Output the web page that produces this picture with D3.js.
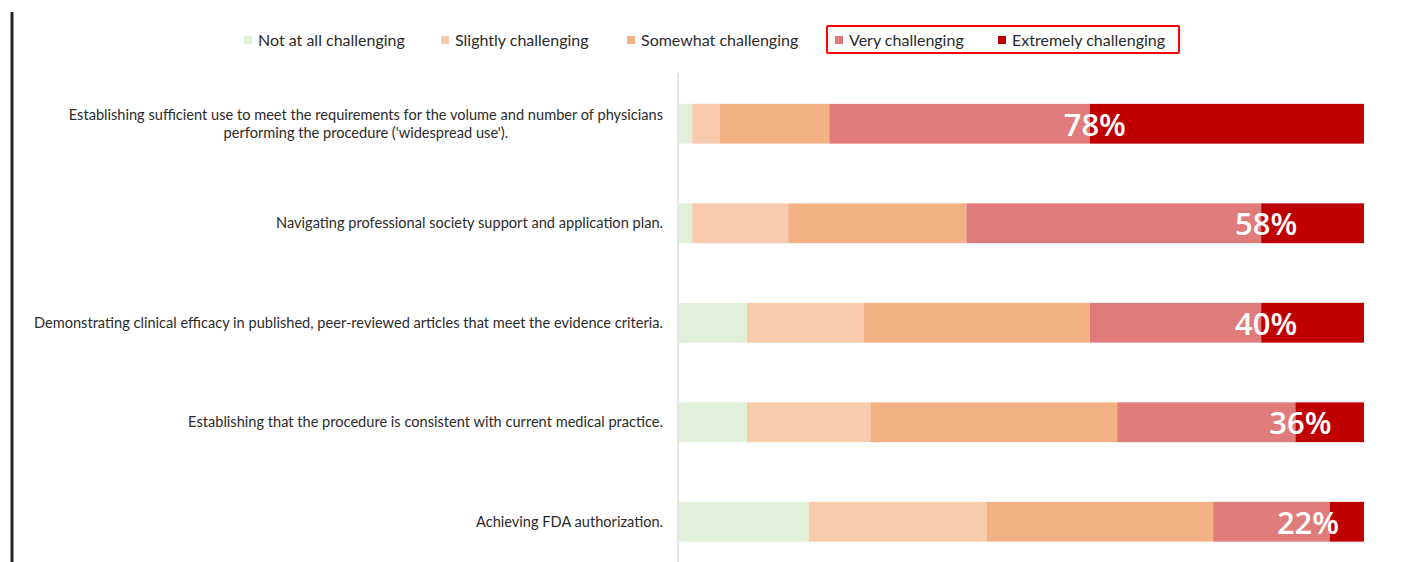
<!DOCTYPE html>
<html>
<head>
<meta charset="utf-8">
<script src="https://cdn.jsdelivr.net/npm/d3@7"></script>
<style>
  html, body { margin: 0; padding: 0; background: #fff; }
  svg { display: block; }
</style>
</head>
<body>
<svg id="chart" width="1420" height="562"></svg>
<script>
// Survey: how challenging each step is (percent of respondents)
const categories = [
  "Establishing sufficient use to meet the requirements for the volume and number of physicians\nperforming the procedure ('widespread use').",
  "Navigating professional society support and application plan.",
  "Demonstrating clinical efficacy in published, peer-reviewed articles that meet the evidence criteria.",
  "Establishing that the procedure is consistent with current medical practice.",
  "Achieving FDA authorization."
];
const seriesNames = ["Not at all challenging", "Slightly challenging", "Somewhat challenging", "Very challenging", "Extremely challenging"];
const notAtAll   = [2, 2, 10, 10, 19];
const slightly   = [4, 14, 17, 18, 26];
const somewhat   = [16, 26, 33, 36, 33];
const very       = [38, 43, 25, 26, 17];
const extremely  = [40, 15, 15, 10, 5];
const topTwoLabels = ["78%", "58%", "40%", "36%", "22%"];
const colors = ["#e2efda", "#f8cbad", "#f4b183", "#e07b7b", "#c00000"];

const series = [notAtAll, slightly, somewhat, very, extremely];
const rows = categories.map((c, i) => {
  const r = { category: c };
  seriesNames.forEach((s, k) => { r[s] = series[k][i]; });
  return r;
});

const svg = d3.select("#chart");
const font = "Lato, 'Open Sans', sans-serif";

const x = d3.scaleLinear().domain([0, 100]).range([678.5, 1364]);
const y = d3.scaleBand().domain(categories).range([74, 571.5]).paddingInner(0.6).paddingOuter(0.3);
const color = d3.scaleOrdinal().domain(seriesNames).range(colors);

// left frame rule
svg.append("line")
  .attr("x1", 12).attr("x2", 12).attr("y1", 12).attr("y2", 562)
  .attr("stroke", "#262626").attr("stroke-width", 3);

// category axis line
svg.append("line")
  .attr("x1", x(0) - 0.5).attr("x2", x(0) - 0.5).attr("y1", 73).attr("y2", 562)
  .attr("stroke", "#d4d4d4").attr("stroke-width", 1.2);

const stacked = d3.stack().keys(seriesNames)(rows);

svg.append("g").selectAll("g")
  .data(stacked)
  .join("g")
  .attr("fill", d => color(d.key))
  .selectAll("rect")
  .data(d => d)
  .join("rect")
  .attr("x", d => x(d[0]))
  .attr("width", d => x(d[1]) - x(d[0]))
  .attr("y", d => y(d.data.category))
  .attr("height", y.bandwidth());

// combined "very + extremely" labels
const veryLayer = stacked[3];
svg.append("g").selectAll("text")
  .data(veryLayer)
  .join("text")
  .attr("x", (d, i) => Math.min(x(d[1]) + 5, x(100) - 56))
  .attr("y", d => y(d.data.category) + y.bandwidth() / 2 + 12)
  .attr("text-anchor", "middle")
  .attr("fill", "#ffffff")
  .attr("font-family", "'Open Sans', sans-serif")
  .attr("font-weight", 600)
  .attr("font-size", 31)
  .text((d, i) => topTwoLabels[i]);

// category labels (multi-line labels are centred on their widest line)
const labelRight = 663;
const labels = svg.append("g")
  .attr("font-family", font)
  .attr("font-size", 14.6)
  .attr("fill", "#2b2b2b");

categories.forEach(c => {
  const lines = c.split("\n");
  const cy = y(c) + y.bandwidth() / 2;
  const g = labels.append("text");
  const lh = 18;
  const t0 = cy - (lines.length - 1) * lh / 2 + 5;
  const tspans = lines.map((ln, j) => g.append("tspan").attr("y", t0 + j * lh).text(ln));
  if (lines.length === 1) {
    g.attr("text-anchor", "end");
    tspans[0].attr("x", labelRight);
  } else {
    const w = d3.max(tspans, t => t.node().getComputedTextLength());
    g.attr("text-anchor", "middle");
    tspans.forEach(t => t.attr("x", labelRight - w / 2));
  }
});

// legend
const legend = svg.append("g")
  .attr("font-family", font)
  .attr("font-size", 16)
  .attr("fill", "#2b2b2b");
const legendX = [244, 441, 627, 835, 998];
seriesNames.forEach((s, k) => {
  legend.append("rect")
    .attr("x", legendX[k]).attr("y", 36).attr("width", 8).attr("height", 8)
    .attr("fill", color(s));
  legend.append("text")
    .attr("x", legendX[k] + 14).attr("y", 46)
    .text(s);
});
// highlight box around the two most severe levels
svg.append("rect")
  .attr("x", 827).attr("y", 26).attr("width", 352).attr("height", 27)
  .attr("fill", "none").attr("stroke", "#ff0000").attr("stroke-width", 2).attr("rx", 1);
</script>
</body>
</html>
